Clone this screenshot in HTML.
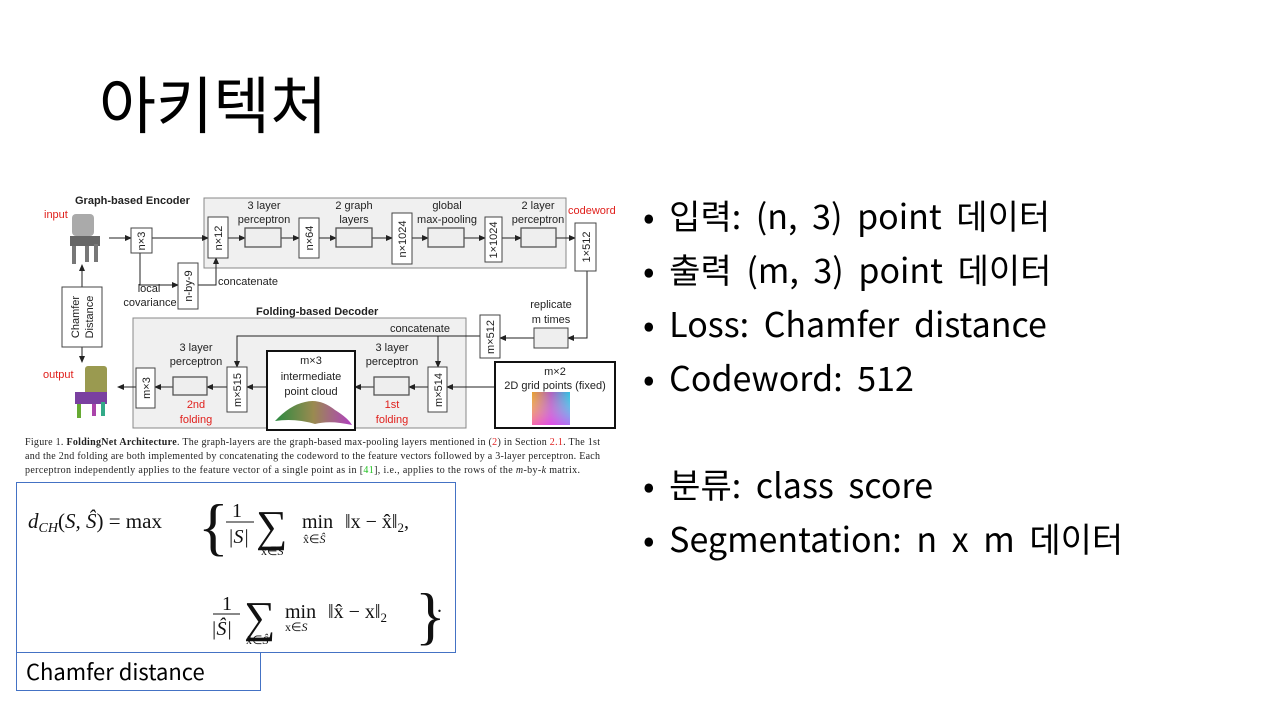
<!DOCTYPE html>
<html><head><meta charset="utf-8"><style>
body{margin:0;background:#fff;}
svg{display:block}
.t{font-family:"Liberation Sans",Arial,sans-serif;font-size:11px;fill:#222}
.r{fill:#e0201c}
.s{font-family:"Liberation Serif",serif;}
.k{font-family:"Noto Sans CJK KR","Liberation Sans",sans-serif;fill:#000}
</style></head><body>
<svg width="1280" height="720" viewBox="0 0 1280 720" xmlns="http://www.w3.org/2000/svg">
<defs>
<marker id="a" markerWidth="7" markerHeight="6" refX="6" refY="3" orient="auto" markerUnits="userSpaceOnUse"><path d="M0,0 L7,3 L0,6 Z" fill="#222"/></marker>
<linearGradient id="g1" x1="0" x2="1"><stop offset="0" stop-color="#e8a030"/><stop offset="0.5" stop-color="#b060c0"/><stop offset="1" stop-color="#30c0e0"/></linearGradient>
<linearGradient id="g2" x1="0" y1="0" x2="0" y2="1"><stop offset="0" stop-color="#fff" stop-opacity="0"/><stop offset="1" stop-color="#ff40ff" stop-opacity="0.6"/></linearGradient>
<linearGradient id="g3" x1="0" x2="1"><stop offset="0" stop-color="#2a8a40"/><stop offset="0.5" stop-color="#9a8a50"/><stop offset="1" stop-color="#b040c0"/></linearGradient>
</defs>

<text class="k" x="99" y="128" font-size="62">아키텍처</text>

<rect x="204" y="198" width="362" height="70" fill="#f0f0f0" stroke="#888"/>
<rect x="133" y="318" width="333" height="110" fill="#f0f0f0" stroke="#888"/>

<text class="t" x="75" y="204" font-weight="bold" font-size="11.5">Graph-based Encoder</text>
<text class="t r" x="44" y="218">input</text>
<g fill="#777"><rect x="72" y="214" width="22" height="22" rx="4" fill="#aaa"/><rect x="70" y="236" width="30" height="10" fill="#666"/><rect x="72" y="246" width="4" height="18"/><rect x="85" y="246" width="4" height="16"/><rect x="94" y="244" width="4" height="18"/></g>

<g stroke="#222" stroke-width="1" fill="none">
<line x1="109" y1="238" x2="131" y2="238" marker-end="url(#a)"/>
<line x1="152" y1="238" x2="208" y2="238" marker-end="url(#a)"/>
<polyline points="140,253 140,285 178,285" marker-end="url(#a)"/>
<polyline points="198,285 216,285 216,258" marker-end="url(#a)"/>
<line x1="228" y1="238" x2="245" y2="238" marker-end="url(#a)"/>
<line x1="281" y1="238" x2="299" y2="238" marker-end="url(#a)"/>
<line x1="319" y1="238" x2="336" y2="238" marker-end="url(#a)"/>
<line x1="372" y1="238" x2="392" y2="238" marker-end="url(#a)"/>
<line x1="412" y1="238" x2="428" y2="238" marker-end="url(#a)"/>
<line x1="464" y1="238" x2="485" y2="238" marker-end="url(#a)"/>
<line x1="502" y1="238" x2="521" y2="238" marker-end="url(#a)"/>
<line x1="556" y1="238" x2="575" y2="238" marker-end="url(#a)"/>
<polyline points="587,271 587,338 568,338" marker-end="url(#a)"/>
<line x1="534" y1="338" x2="500" y2="338" marker-end="url(#a)"/>
<polyline points="480,336 237,336 237,367" marker-end="url(#a)"/>
<line x1="438" y1="336" x2="438" y2="367" marker-end="url(#a)"/>
<line x1="495" y1="387" x2="447" y2="387" marker-end="url(#a)"/>
<line x1="428" y1="387" x2="409" y2="387" marker-end="url(#a)"/>
<line x1="374" y1="387" x2="355" y2="387" marker-end="url(#a)"/>
<line x1="267" y1="387" x2="247" y2="387" marker-end="url(#a)"/>
<line x1="227" y1="387" x2="207" y2="387" marker-end="url(#a)"/>
<line x1="173" y1="387" x2="155" y2="387" marker-end="url(#a)"/>
<line x1="136" y1="387" x2="118" y2="387" marker-end="url(#a)"/>
<line x1="82" y1="287" x2="82" y2="265" marker-end="url(#a)"/>
<line x1="82" y1="347" x2="82" y2="362" marker-end="url(#a)"/>
</g>

<g fill="#fff" stroke="#444">
<rect x="131" y="228" width="21" height="25"/>
<rect x="208" y="217" width="20" height="41"/>
<rect x="299" y="218" width="20" height="40"/>
<rect x="392" y="213" width="20" height="51"/>
<rect x="485" y="217" width="17" height="45"/>
<rect x="575" y="223" width="21" height="48"/>
<rect x="178" y="263" width="20" height="46"/>
<rect x="62" y="287" width="40" height="60"/>
</g>
<g fill="#eee" stroke="#555" stroke-width="1.3">
<rect x="245" y="228" width="36" height="19"/>
<rect x="336" y="228" width="36" height="19"/>
<rect x="428" y="228" width="36" height="19"/>
<rect x="521" y="228" width="35" height="19"/>
</g>
<g class="t" text-anchor="middle">
<text transform="translate(145,241) rotate(-90)">n×3</text>
<text transform="translate(222,238) rotate(-90)">n×12</text>
<text transform="translate(313,238) rotate(-90)">n×64</text>
<text transform="translate(406,239) rotate(-90)">n×1024</text>
<text transform="translate(497,240) rotate(-90)">1×1024</text>
<text transform="translate(590,247) rotate(-90)">1×512</text>
<text transform="translate(192,286) rotate(-90)">n-by-9</text>
<text transform="translate(79,317) rotate(-90)">Chamfer</text>
<text transform="translate(93,317) rotate(-90)">Distance</text>
<text x="264" y="209">3 layer</text><text x="264" y="223">perceptron</text>
<text x="354" y="209">2 graph</text><text x="354" y="223">layers</text>
<text x="447" y="209">global</text><text x="447" y="223">max-pooling</text>
<text x="538" y="209">2 layer</text><text x="538" y="223">perceptron</text>
<text x="149" y="292">local</text><text x="150" y="306">covariance</text>
<text x="551" y="308">replicate</text><text x="551" y="323">m times</text>
<text x="420" y="332">concatenate</text>
<text x="392" y="351">3 layer</text><text x="392" y="365">perceptron</text>
<text x="196" y="351">3 layer</text><text x="196" y="365">perceptron</text>
</g>
<text class="t r" x="568" y="214">codeword</text>
<text class="t" x="218" y="285">concatenate</text>

<text class="t" x="256" y="315" font-weight="bold" font-size="11.5">Folding-based Decoder</text>
<g fill="#fff" stroke="#444">
<rect x="534" y="328" width="34" height="20" fill="#eee"/>
<rect x="480" y="315" width="20" height="43"/>
<rect x="428" y="367" width="19" height="45"/>
<rect x="227" y="367" width="20" height="45"/>
<rect x="136" y="368" width="19" height="40"/>
</g>
<g fill="#eee" stroke="#555" stroke-width="1.3">
<rect x="374" y="377" width="35" height="18"/>
<rect x="173" y="377" width="34" height="18"/>
</g>
<rect x="267" y="351" width="88" height="79" fill="#fff" stroke="#111" stroke-width="2"/>
<rect x="495" y="362" width="120" height="66" fill="#fff" stroke="#111" stroke-width="2"/>
<rect x="532" y="392" width="38" height="33" fill="url(#g1)"/>
<rect x="532" y="392" width="38" height="33" fill="url(#g2)"/>
<path d="M275,421 Q290,405 305,402 Q320,398 335,410 Q348,418 352,425 Q330,420 315,424 Q295,418 275,421Z" fill="url(#g3)"/>
<g class="t" text-anchor="middle">
<text transform="translate(494,337) rotate(-90)">m×512</text>
<text transform="translate(442,390) rotate(-90)">m×514</text>
<text transform="translate(241,390) rotate(-90)">m×515</text>
<text transform="translate(150,388) rotate(-90)">m×3</text>
<text x="311" y="364">m×3</text>
<text x="311" y="380">intermediate</text>
<text x="311" y="395">point cloud</text>
<text x="555" y="375">m×2</text>
<text x="555" y="389">2D grid points (fixed)</text>
<text x="392" y="408" class="r">1st</text><text x="392" y="423" class="r">folding</text>
<text x="196" y="408" class="r">2nd</text><text x="196" y="423" class="r">folding</text>
</g>
<text class="t r" x="43" y="378">output</text>
<g><rect x="85" y="366" width="22" height="30" rx="3" fill="#9a9a50"/><rect x="75" y="392" width="32" height="12" fill="#7a40a0"/><rect x="77" y="404" width="4" height="14" fill="#6a3"/><rect x="92" y="404" width="4" height="12" fill="#a4a"/><rect x="101" y="402" width="4" height="14" fill="#3a8"/></g>

<g font-family="Liberation Serif,serif" font-size="10" fill="#222">
<text x="25" y="445" textLength="575">Figure 1. <tspan font-weight="bold">FoldingNet Architecture</tspan>.  The graph-layers are the graph-based max-pooling layers mentioned in (<tspan fill="#e02020">2</tspan>) in Section <tspan fill="#e02020">2.1</tspan>.  The 1st</text>
<text x="25" y="459" textLength="575">and the 2nd folding are both implemented by concatenating the codeword to the feature vectors followed by a 3-layer perceptron.  Each</text>
<text x="25" y="473" textLength="555">perceptron independently applies to the feature vector of a single point as in [<tspan fill="#20c020">41</tspan>], i.e., applies to the rows of the <tspan font-style="italic">m</tspan>-by-<tspan font-style="italic">k</tspan> matrix.</text>
</g>

<rect x="16.5" y="482.5" width="439" height="170" fill="#fff" stroke="#4472c4"/>
<g class="s" fill="#111">
<text x="28" y="528" font-size="21" font-style="italic">d<tspan font-size="14" dy="4">CH</tspan><tspan dy="-4" font-style="normal">(</tspan>S, Ŝ<tspan font-style="normal">) = max</tspan></text>
<text x="198" y="548" font-size="64">{</text>
<text x="232" y="517" font-size="20">1</text>
<line x1="226" y1="522" x2="254" y2="522" stroke="#111"/>
<text x="228" y="543" font-size="20" font-style="italic">|S|</text>
<text x="256" y="541" font-size="44">∑</text>
<text x="261" y="555" font-size="12">x∈<tspan font-style="italic">S</tspan></text>
<text x="302" y="528" font-size="20">min</text>
<text x="303" y="543" font-size="12">x̂∈<tspan font-style="italic">Ŝ</tspan></text>
<text x="345" y="528" font-size="20">‖x − x̂‖<tspan font-size="13" dy="4">2</tspan><tspan dy="-4">,</tspan></text>
<text x="222" y="610" font-size="20">1</text>
<line x1="213" y1="614" x2="240" y2="614" stroke="#111"/>
<text x="211" y="635" font-size="20" font-style="italic">|Ŝ|</text>
<text x="244" y="632" font-size="44">∑</text>
<text x="246" y="644" font-size="12">x̂∈<tspan font-style="italic">Ŝ</tspan></text>
<text x="285" y="618" font-size="20">min</text>
<text x="285" y="631" font-size="12">x∈<tspan font-style="italic">S</tspan></text>
<text x="328" y="618" font-size="20">‖x̂ − x‖<tspan font-size="13" dy="4">2</tspan></text>
<text x="415" y="637" font-size="64">}</text>
<text x="437" y="612" font-size="20">.</text>
</g>
<rect x="16.5" y="652.5" width="244" height="38" fill="#fff" stroke="#4472c4"/>
<text class="k" x="26" y="680" font-size="22">Chamfer distance</text>

<g class="k" font-size="34" word-spacing="7">
<text x="643" y="229">• 입력: (n, 3) point 데이터</text>
<text x="643" y="283">• 출력 (m, 3) point 데이터</text>
<text x="643" y="337">• Loss: Chamfer distance</text>
<text x="643" y="391">• Codeword: 512</text>
<text x="643" y="498">• 분류: class score</text>
<text x="643" y="552">• Segmentation: n x m 데이터</text>
</g>
</svg>
</body></html>
